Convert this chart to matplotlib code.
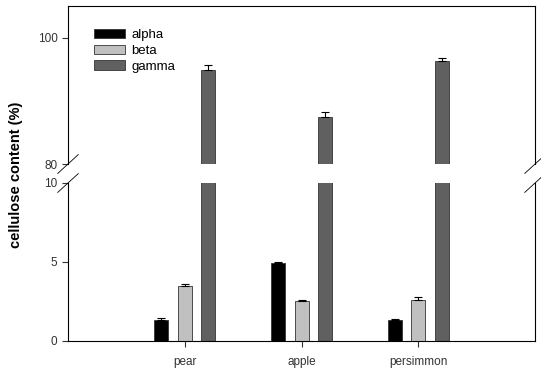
import numpy as np
import matplotlib
matplotlib.use("Agg")
import matplotlib.pyplot as plt

plt.rcParams['font.family'] = ['Liberation Sans', 'DejaVu Sans']

categories = ["pear", "apple", "persimmon"]
series = ["alpha", "beta", "gamma"]
alpha = [1.33, 4.92, 1.31]
beta = [3.48, 2.53, 2.61]
gamma = [94.9, 87.4, 96.3]
alpha_err = [0.10, 0.10, 0.10]
beta_err = [0.10, 0.09, 0.16]
gamma_err = [0.7, 0.9, 0.4]
colors = ["#000000", "#c0c0c0", "#606060"]

values = [alpha, beta, gamma]
errors = [alpha_err, beta_err, gamma_err]

fig = plt.figure(figsize=(5.41, 3.73), dpi=100)
ax_top = fig.add_axes([0.1257, 0.5603, 0.8633, 0.4237])
ax_bot = fig.add_axes([0.1257, 0.0858, 0.8633, 0.4236])

x = np.arange(1, len(categories) + 1)
width = 0.12
offsets = [-0.2, 0.0, 0.2]

for ax in (ax_top, ax_bot):
    for i in range(3):
        ax.bar(x + offsets[i], values[i], width, color=colors[i],
               edgecolor="#333333", linewidth=0.6, label=series[i], zorder=2)
        ax.errorbar(x + offsets[i], values[i],
                    yerr=[np.zeros(3), errors[i]], fmt="none",
                    ecolor="black", elinewidth=0.8, capsize=3, capthick=0.8)
    ax.set_xlim(0, 4)
    for s in ax.spines.values():
        s.set_linewidth(0.8)

ax_top.set_ylim(80, 105)
ax_top.set_yticks([80, 100])
ax_top.spines['bottom'].set_visible(False)
ax_top.tick_params(axis='x', bottom=False, labelbottom=False)

ax_bot.set_ylim(0, 10)
ax_bot.set_yticks([0, 5, 10])
ax_bot.spines['top'].set_visible(False)
ax_bot.set_xticks(x)
ax_bot.set_xticklabels(categories)

for ax in (ax_top, ax_bot):
    ax.tick_params(axis='both', direction='out', length=4, width=0.8,
                   labelsize=8.5, colors="#333333", right=False)
    ax.tick_params(axis='x', pad=7)

# break marks
d = 0.022
kw = dict(color="black", clip_on=False, linewidth=0.6)
for xx in (0, 1):
    ax_top.plot([xx - d, xx + d], [-d * 2.7, d * 2.7], transform=ax_top.transAxes, **kw)
    ax_bot.plot([xx - d, xx + d], [1 - d * 2.7, 1 + d * 2.7], transform=ax_bot.transAxes, **kw)

ax_top.legend(loc="upper left", bbox_to_anchor=(0.045, 0.89), frameon=False,
              fontsize=9.5, handlelength=2.3, handleheight=0.7,
              labelspacing=0.28, handletextpad=0.5, borderaxespad=0)

fig.text(0.03, 0.531, "cellulose content (%)", rotation=90, va="center",
         ha="center", fontsize=10.5, fontweight="bold")

fig.savefig("out.png", dpi=100)
